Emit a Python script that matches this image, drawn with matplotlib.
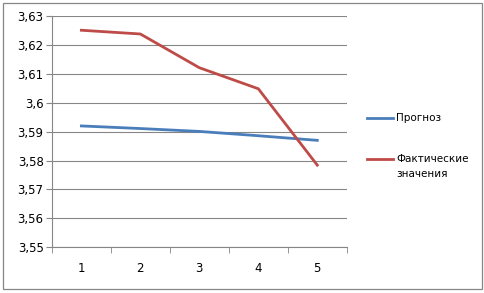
import matplotlib
matplotlib.use("Agg")
from matplotlib import pyplot as plt
from matplotlib.patches import Rectangle
from matplotlib.lines import Line2D

# data
periods = [1, 2, 3, 4, 5]
forecast = [3.5920, 3.5911, 3.5901, 3.5886, 3.5870]
actual = [3.6252, 3.6239, 3.6122, 3.6049, 3.5784]
series_names = ["Прогноз", "Фактические\nзначения"]
series_colors = ["#4A7EBB", "#BE4B48"]
y_ticks = [3.55, 3.56, 3.57, 3.58, 3.59, 3.60, 3.61, 3.62, 3.63]
y_labels = ["3,55", "3,56", "3,57", "3,58", "3,59", "3,6", "3,61", "3,62", "3,63"]

plt.rcParams["font.family"] = ["DejaVu Sans"]
grey = "#868686"

fig = plt.figure(figsize=(4.85, 2.93), dpi=100)
fig.patches.append(Rectangle((0.006, 0.012), 0.988, 0.978, transform=fig.transFigure,
                             fill=False, edgecolor=grey, linewidth=0.9))

ax = fig.add_axes([0.107, 0.157, 0.608, 0.787])
x = list(range(len(periods)))
ax.plot(x, forecast, color=series_colors[0], linewidth=2.0)
ax.plot(x, actual, color=series_colors[1], linewidth=2.0)

ax.set_xlim(-0.5, len(periods) - 0.5)
ax.set_ylim(3.55, 3.63)
ax.set_yticks(y_ticks)
ax.set_yticklabels(y_labels)
ax.set_xticks(x)
ax.set_xticklabels([str(p) for p in periods])
ax.set_xticks([i - 0.5 for i in range(len(periods) + 1)], minor=True)

ax.grid(axis="y", color=grey, linewidth=0.8)
ax.set_axisbelow(True)
for side in ["top", "right"]:
    ax.spines[side].set_visible(False)
for side in ["left", "bottom"]:
    ax.spines[side].set_color(grey)
    ax.spines[side].set_linewidth(0.8)

ax.tick_params(axis="y", length=4, color=grey, labelsize=8.5, pad=2)
ax.tick_params(axis="x", which="major", length=0, labelsize=8.5, pad=11)
ax.tick_params(axis="x", which="minor", length=4, color=grey)

# legend, handle next to the first text line like the original
W, H = 485, 293
legend_rows = [118, 159]
for name, color, yy in zip(series_names, series_colors, legend_rows):
    fy = 1 - yy / H
    fig.add_artist(Line2D([367 / W, 393 / W], [fy, fy], color=color, linewidth=2.0))
    fig.text(396 / W, fy + 5.5 / H, name, fontsize=7.5, va="top", ha="left",
             linespacing=1.7)

fig.savefig("out.png", dpi=100)
